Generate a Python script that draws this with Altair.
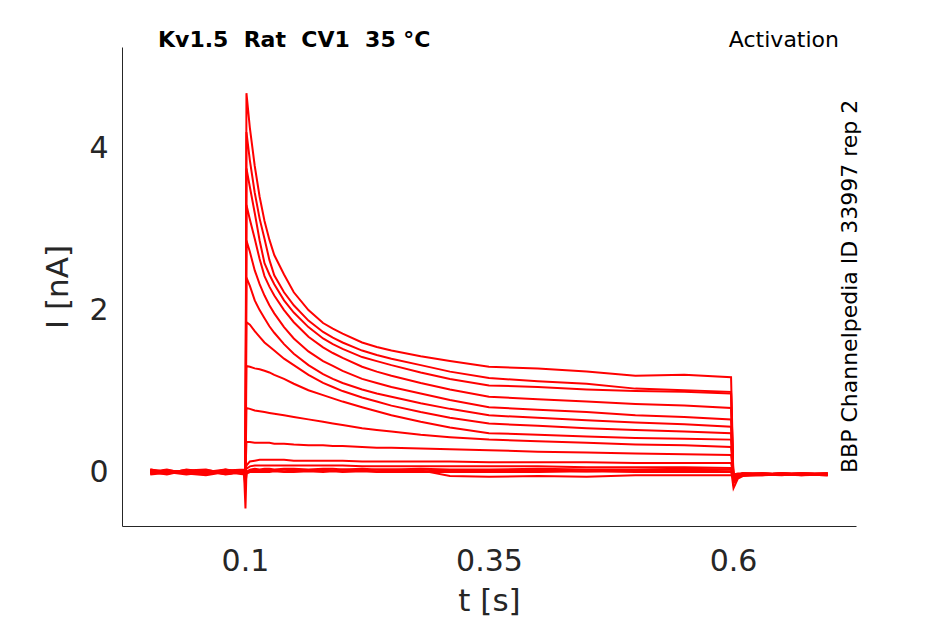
import altair as alt
import pandas as pd

# time samples [s]
TIME = [0.003, 0.02, 0.04, 0.06, 0.08, 0.099,
        0.1005, 0.1015, 0.105, 0.11, 0.115, 0.12, 0.125, 0.13, 0.14, 0.15, 0.165, 0.18,
        0.19, 0.2, 0.22, 0.235, 0.25, 0.28, 0.31, 0.35, 0.4, 0.45, 0.5, 0.55, 0.598,
        0.6005, 0.605, 0.61, 0.63, 0.65, 0.67, 0.697]

# current traces [nA]
TRACE_A = [0.02, -0.02, 0.03, 0.0, -0.02, 0.01,
           0.0, 4.68, 4.25, 3.78, 3.40, 3.10, 2.87, 2.68, 2.44, 2.22, 2.00, 1.84,
           1.77, 1.71, 1.60, 1.545, 1.50, 1.43, 1.37, 1.30, 1.28, 1.24, 1.19, 1.20, 1.17,
           -0.12, -0.06, -0.04, -0.03, -0.04, -0.02, -0.03]
TRACE_B = [0.0, 0.03, -0.02, 0.02, 0.0, -0.03,
           0.0, 4.20, 3.85, 3.45, 3.13, 2.88, 2.62, 2.43, 2.22, 2.06, 1.87, 1.73,
           1.66, 1.60, 1.50, 1.445, 1.40, 1.32, 1.24, 1.16, 1.12, 1.09, 1.03, 1.01, 0.99,
           -0.10, -0.05, -0.03, -0.04, -0.02, -0.03, -0.04]
TRACE_C = [-0.02, 0.02, 0.0, -0.03, 0.03, 0.0,
           0.0, 3.75, 3.52, 3.20, 2.86, 2.58, 2.44, 2.32, 2.12, 1.97, 1.79, 1.65,
           1.58, 1.52, 1.42, 1.37, 1.32, 1.23, 1.15, 1.07, 1.05, 1.02, 1.00, 0.99, 0.97,
           -0.14, -0.06, -0.04, -0.03, -0.03, -0.04, -0.02]
TRACE_D = [0.03, 0.0, 0.02, -0.02, 0.0, 0.02,
           0.0, 3.30, 3.12, 2.88, 2.63, 2.42, 2.29, 2.18, 2.00, 1.85, 1.67, 1.54,
           1.47, 1.41, 1.30, 1.24, 1.19, 1.10, 1.02, 0.93, 0.90, 0.87, 0.84, 0.82, 0.79,
           -0.11, -0.05, -0.04, -0.02, -0.03, -0.03, -0.04]
TRACE_E = [0.0, -0.03, 0.02, 0.03, -0.02, 0.0,
           0.0, 2.86, 2.72, 2.49, 2.32, 2.18, 2.06, 1.96, 1.79, 1.65, 1.49, 1.37,
           1.31, 1.25, 1.15, 1.10, 1.05, 0.97, 0.89, 0.80, 0.77, 0.74, 0.70, 0.68, 0.65,
           -0.09, -0.05, -0.03, -0.03, -0.02, -0.04, -0.03]
TRACE_F = [0.02, 0.0, -0.03, 0.0, 0.03, -0.02,
           0.0, 2.40, 2.30, 2.12, 2.00, 1.90, 1.80, 1.72, 1.58, 1.46, 1.32, 1.21,
           1.15, 1.10, 1.02, 0.97, 0.93, 0.85, 0.78, 0.70, 0.67, 0.64, 0.61, 0.59, 0.56,
           -0.08, -0.04, -0.03, -0.02, -0.03, -0.02, -0.03]
TRACE_G = [-0.02, 0.02, 0.0, 0.02, -0.03, 0.0,
           0.0, 1.85, 1.82, 1.74, 1.67, 1.60, 1.55, 1.50, 1.40, 1.32, 1.20, 1.10,
           1.05, 1.00, 0.92, 0.87, 0.82, 0.74, 0.67, 0.60, 0.57, 0.54, 0.52, 0.50, 0.48,
           -0.07, -0.04, -0.03, -0.03, -0.02, -0.03, -0.02]
TRACE_H = [0.0, 0.02, -0.02, 0.0, 0.02, 0.03,
           0.0, 1.31, 1.30, 1.28, 1.27, 1.25, 1.23, 1.20, 1.15, 1.09, 1.01, 0.95,
           0.91, 0.87, 0.80, 0.75, 0.70, 0.62, 0.55, 0.48, 0.46, 0.44, 0.42, 0.41, 0.40,
           -0.06, -0.04, -0.02, -0.03, -0.02, -0.03, -0.02]
TRACE_I = [0.03, 0.0, 0.02, -0.02, 0.0, 0.0,
           0.0, 0.79, 0.78, 0.76, 0.75, 0.74, 0.73, 0.72, 0.70, 0.68, 0.65, 0.62,
           0.60, 0.58, 0.54, 0.52, 0.50, 0.46, 0.43, 0.40, 0.38, 0.36, 0.34, 0.33, 0.31,
           -0.05, -0.03, -0.02, -0.03, -0.02, -0.02, -0.03]
TRACE_J = [0.0, -0.02, 0.02, 0.0, 0.0, 0.02,
           0.0, 0.37, 0.37, 0.36, 0.36, 0.36, 0.36, 0.35, 0.35, 0.34, 0.33, 0.33,
           0.32, 0.32, 0.31, 0.30, 0.30, 0.29, 0.28, 0.27, 0.25, 0.24, 0.23, 0.22, 0.21,
           -0.04, -0.03, -0.02, -0.02, -0.03, -0.02, -0.02]
TRACE_K = [0.02, 0.0, 0.0, 0.02, -0.02, 0.0,
           0.0, 0.08, 0.13, 0.14, 0.15, 0.15, 0.15, 0.15, 0.15, 0.14, 0.14, 0.14,
           0.14, 0.14, 0.13, 0.13, 0.13, 0.13, 0.13, 0.12, 0.12, 0.12, 0.11, 0.11, 0.11,
           -0.03, -0.03, -0.02, -0.02, -0.02, -0.03, -0.02]
TRACE_L = [-0.02, 0.0, 0.02, 0.0, 0.02, -0.02,
           0.0, 0.04, 0.07, 0.08, 0.08, 0.08, 0.08, 0.08, 0.08, 0.08, 0.08, 0.08,
           0.08, 0.08, 0.07, 0.07, 0.07, 0.07, 0.07, 0.07, 0.07, 0.06, 0.06, 0.06, 0.05,
           -0.03, -0.02, -0.02, -0.03, -0.02, -0.02, -0.03]
TRACE_M = [0.0, 0.02, -0.02, -0.04, 0.0, 0.0,
           -0.45, 0.0, 0.03, 0.04, 0.03, 0.04, 0.04, 0.03, 0.04, 0.04, 0.03, 0.04,
           0.04, 0.03, 0.04, 0.03, 0.03, 0.04, 0.03, 0.03, 0.04, 0.03, 0.03, 0.04, 0.03,
           -0.20, -0.08, -0.05, -0.04, -0.03, -0.03, -0.04]
TRACE_N = [0.02, 0.0, 0.0, 0.02, 0.0, 0.02,
           -0.10, 0.0, 0.01, 0.02, 0.01, 0.02, 0.02, 0.02, 0.01, 0.02, 0.02, 0.02,
           0.02, 0.01, 0.02, 0.01, 0.02, 0.01, 0.02, 0.02, 0.02, 0.01, 0.02, 0.02, 0.01,
           -0.06, -0.04, -0.03, -0.03, -0.02, -0.03, -0.03]
TRACE_O = [-0.03, -0.01, 0.0, -0.02, 0.0, -0.02,
           -0.15, -0.02, 0.0, 0.0, 0.0, 0.0, 0.0, 0.01, 0.0, 0.0, 0.01, 0.0,
           0.01, 0.0, 0.01, 0.0, 0.0, 0.0, 0.0, 0.0, 0.0, 0.01, 0.0, 0.0, 0.0,
           -0.05, -0.03, -0.02, -0.02, -0.03, -0.02, -0.02]
TRACE_P = [0.0, 0.0, 0.02, 0.0, -0.02, 0.0,
           -0.20, 0.0, 0.02, 0.03, 0.02, 0.03, 0.03, 0.02, 0.03, 0.03, 0.02, 0.03,
           0.02, 0.03, 0.02, 0.03, 0.03, 0.02, -0.05, -0.06, -0.05, -0.06, -0.04, -0.04, -0.04,
           -0.04, -0.03, -0.03, -0.02, -0.03, -0.02, -0.03]

TRACES = {
    "A": TRACE_A, "B": TRACE_B, "C": TRACE_C, "D": TRACE_D, "E": TRACE_E,
    "F": TRACE_F, "G": TRACE_G, "H": TRACE_H, "I": TRACE_I, "J": TRACE_J,
    "K": TRACE_K, "L": TRACE_L, "M": TRACE_M, "N": TRACE_N, "O": TRACE_O,
    "P": TRACE_P,
}

X_TICKS = [0.1, 0.35, 0.6]
Y_TICKS = [0, 2, 4]

TITLE_TEXT = "Kv1.5\u00a0\u00a0Rat\u00a0\u00a0CV1\u00a0\u00a035\u00a0°C"
PROTOCOL_TEXT = "Activation"
SIDE_TEXT = "BBP Channelpedia ID 33997 rep 2"

rows = []
for name, vals in TRACES.items():
    assert len(vals) == len(TIME), name
    for t, v in zip(TIME, vals):
        rows.append({"t": t, "I": v, "trace": name})
df = pd.DataFrame(rows)

FONT = "DejaVu Sans"
W, H = 734, 479

lines = alt.Chart(df).mark_line(color="#ff0000", strokeWidth=2.0, clip=True).encode(
    x=alt.X("t:Q", scale=alt.Scale(domain=[-0.026, 0.726], nice=False, zero=False),
            axis=alt.Axis(values=X_TICKS, labelExpr="'' + datum.value", title="t [s]",
                          labelFontSize=30, titleFontSize=31, labelPadding=20, titlePadding=10,
                          ticks=False, grid=False, labelFlush=False)),
    y=alt.Y("I:Q", scale=alt.Scale(domain=[-0.667, 5.25], nice=False, zero=False),
            axis=alt.Axis(values=Y_TICKS, labelExpr="'' + datum.value", title="I [nA]",
                          labelFontSize=30, titleFontSize=31, labelPadding=14, titlePadding=14,
                          ticks=False, grid=False, labelFlush=False)),
    detail="trace:N",
    order="t:Q",
)

title_df = pd.DataFrame({"label": [TITLE_TEXT]})
prot_df = pd.DataFrame({"label": [PROTOCOL_TEXT]})
side_df = pd.DataFrame({"label": [SIDE_TEXT]})

title_txt = alt.Chart(title_df).mark_text(
    font=FONT, fontSize=22, fontWeight="bold", color="#000000", align="left", baseline="alphabetic"
).encode(text="label:N", x=alt.value(36), y=alt.value(0))

prot_txt = alt.Chart(prot_df).mark_text(
    font=FONT, fontSize=22, color="#000000", align="right", baseline="alphabetic"
).encode(text="label:N", x=alt.value(717), y=alt.value(0))

side_txt = alt.Chart(side_df).mark_text(
    font=FONT, fontSize=22, color="#000000", align="left", baseline="alphabetic", angle=270
).encode(text="label:N", x=alt.value(735), y=alt.value(426))

chart = alt.layer(lines, title_txt, prot_txt, side_txt).properties(
    width=W, height=H,
    autosize=alt.AutoSizeParams(type="none"),
    padding={"left": 114, "top": 39, "right": 80, "bottom": 90},
).configure(
    font=FONT,
    background="white",
).configure_view(
    stroke=None,
).configure_axis(
    domainColor="#262626",
    domainWidth=1,
    labelColor="#262626",
    titleColor="#262626",
    labelFont=FONT,
    titleFont=FONT,
    titleFontWeight="normal",
)

chart.save("out.html", embed_options={"renderer": "svg", "actions": False})
